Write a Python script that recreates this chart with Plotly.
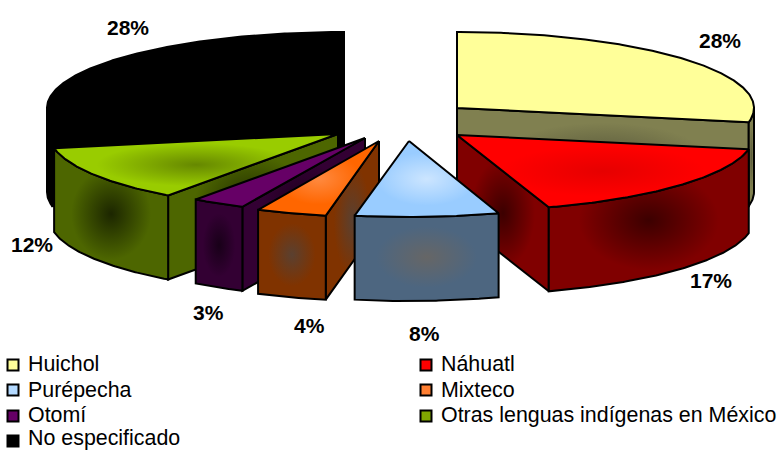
import math
import plotly.graph_objects as go

# ---- data ----
categories = ["Huichol", "Náhuatl", "Purépecha", "Mixteco", "Otomí",
              "Otras lenguas indígenas en México", "No especificado"]
values = [28, 17, 8, 4, 3, 12, 28]

# ---- styling: (top edge, top centre), (wall edge, wall centre) ----
top_colors = [("#FFFF99", "#FFFF99"), ("#FF0000", "#E60000"), ("#99CCFF", "#CCE5FF"),
              ("#FF6600", "#FF8A40"), ("#660066", "#660066"), ("#99CC00", "#668800"),
              ("#000000", "#000000")]
wall_colors = [("#808050", "#5A5A3C"), ("#800000", "#3C0000"), ("#4D6680", "#666666"),
               ("#803300", "#5A4030"), ("#330033", "#180018"), ("#4D6600", "#1C2600"),
               ("#000000", "#000000")]
legend_colors = ["#FFFF99", "#FF0000", "#B3D9FF", "#FF7F32", "#660066", "#80A800", "#000000"]

# projection: pivot of each exploded slice, horizontal radius
pivot_x = [457, 457, 409, 379, 365, 338, 344]
pivot_y = [108, 135, 141, 141, 138, 134, 108]
radius_x = [297, 297, 290, 284, 288, 289, 297]
RY = 76
DEPTH = 84

# label / legend placement
label_x = [720, 711, 424, 309, 208, 32, 128]
label_y = [40, 280, 333, 325, 312, 244, 27]
legend_x = [13, 426, 13, 426, 13, 426, 13]
legend_y = [365, 365, 390, 390, 416, 416, 441]
legend_text_y = [364, 364, 390, 390, 415, 415, 437.5]

# draw order back to front
draw_order = [6, 0, 5, 4, 3, 1, 2]


def point(i, deg, drop=0.0):
    t = math.radians(deg)
    return (pivot_x[i] + radius_x[i] * math.sin(t),
            pivot_y[i] - RY * math.cos(t) + drop)


def arc(i, a, b, drop=0.0):
    n = max(2, int(abs(b - a) * 2))
    return [point(i, a + (b - a) * k / n, drop) for k in range(n + 1)]


def face(pts, colors, name):
    edge, centre = colors
    xs = [p[0] for p in pts] + [pts[0][0]]
    ys = [p[1] for p in pts] + [pts[0][1]]
    kw = dict(fillcolor=edge)
    if edge != centre:
        kw = dict(fillgradient=dict(type="radial",
                                    colorscale=[[0, centre], [0.7, edge], [1, edge]]))
    return go.Scatter(x=xs, y=ys, mode="lines", fill="toself", name=name,
                      line=dict(color="#000000", width=2), showlegend=False,
                      hoveron="fills", **kw)


fig = go.Figure()
total = sum(values)
starts, running = [], 0.0
for v in values:
    starts.append(running)
    running += 360.0 * v / total

for i in draw_order:
    a = starts[i]
    b = a + 360.0 * values[i] / total
    name = categories[i]
    apex = (pivot_x[i], pivot_y[i])
    low = (pivot_x[i], pivot_y[i] + DEPTH)
    if math.sin(math.radians(a)) < -1e-6:   # start wall faces viewer
        p, q = point(i, a), point(i, a, DEPTH)
        fig.add_trace(face([apex, p, q, low], wall_colors[i], name))
    if math.sin(math.radians(b)) > 1e-6:    # end wall faces viewer
        p, q = point(i, b), point(i, b, DEPTH)
        fig.add_trace(face([apex, p, q, low], wall_colors[i], name))
    a2, b2 = max(a, 90.0), min(b, 270.0)
    if b2 > a2:                              # outer rim faces viewer
        fig.add_trace(face(arc(i, a2, b2) + arc(i, b2, a2, DEPTH), wall_colors[i], name))
    fig.add_trace(face([apex] + arc(i, a, b), top_colors[i], name))

# legend rows
for i, name in enumerate(categories):
    fig.add_trace(go.Scatter(
        x=[legend_x[i]], y=[legend_y[i]], mode="markers", showlegend=False, name=name,
        marker=dict(symbol="square", size=11, color=legend_colors[i],
                    line=dict(color="#000000", width=2))))
    fig.add_annotation(x=legend_x[i] + 14, y=legend_text_y[i], text=name, showarrow=False,
                       xanchor="left", yanchor="middle", borderpad=0,
                       font=dict(family="Liberation Sans", size=21.4, color="#000000"))

# percent labels
for i, v in enumerate(values):
    fig.add_annotation(x=label_x[i], y=label_y[i], text=f"<b>{v}%</b>", showarrow=False,
                       font=dict(family="Liberation Sans", size=21, color="#000000"))

fig.update_layout(
    width=781, height=450, margin=dict(l=0, r=0, t=0, b=0),
    paper_bgcolor="#FFFFFF", plot_bgcolor="#FFFFFF", showlegend=False,
    xaxis=dict(range=[0, 781], visible=False, fixedrange=True),
    yaxis=dict(range=[450, 0], visible=False, fixedrange=True),
)
fig.write_html("out.html", post_script="document.body.style.margin='0';",
               config={"displayModeBar": False})
